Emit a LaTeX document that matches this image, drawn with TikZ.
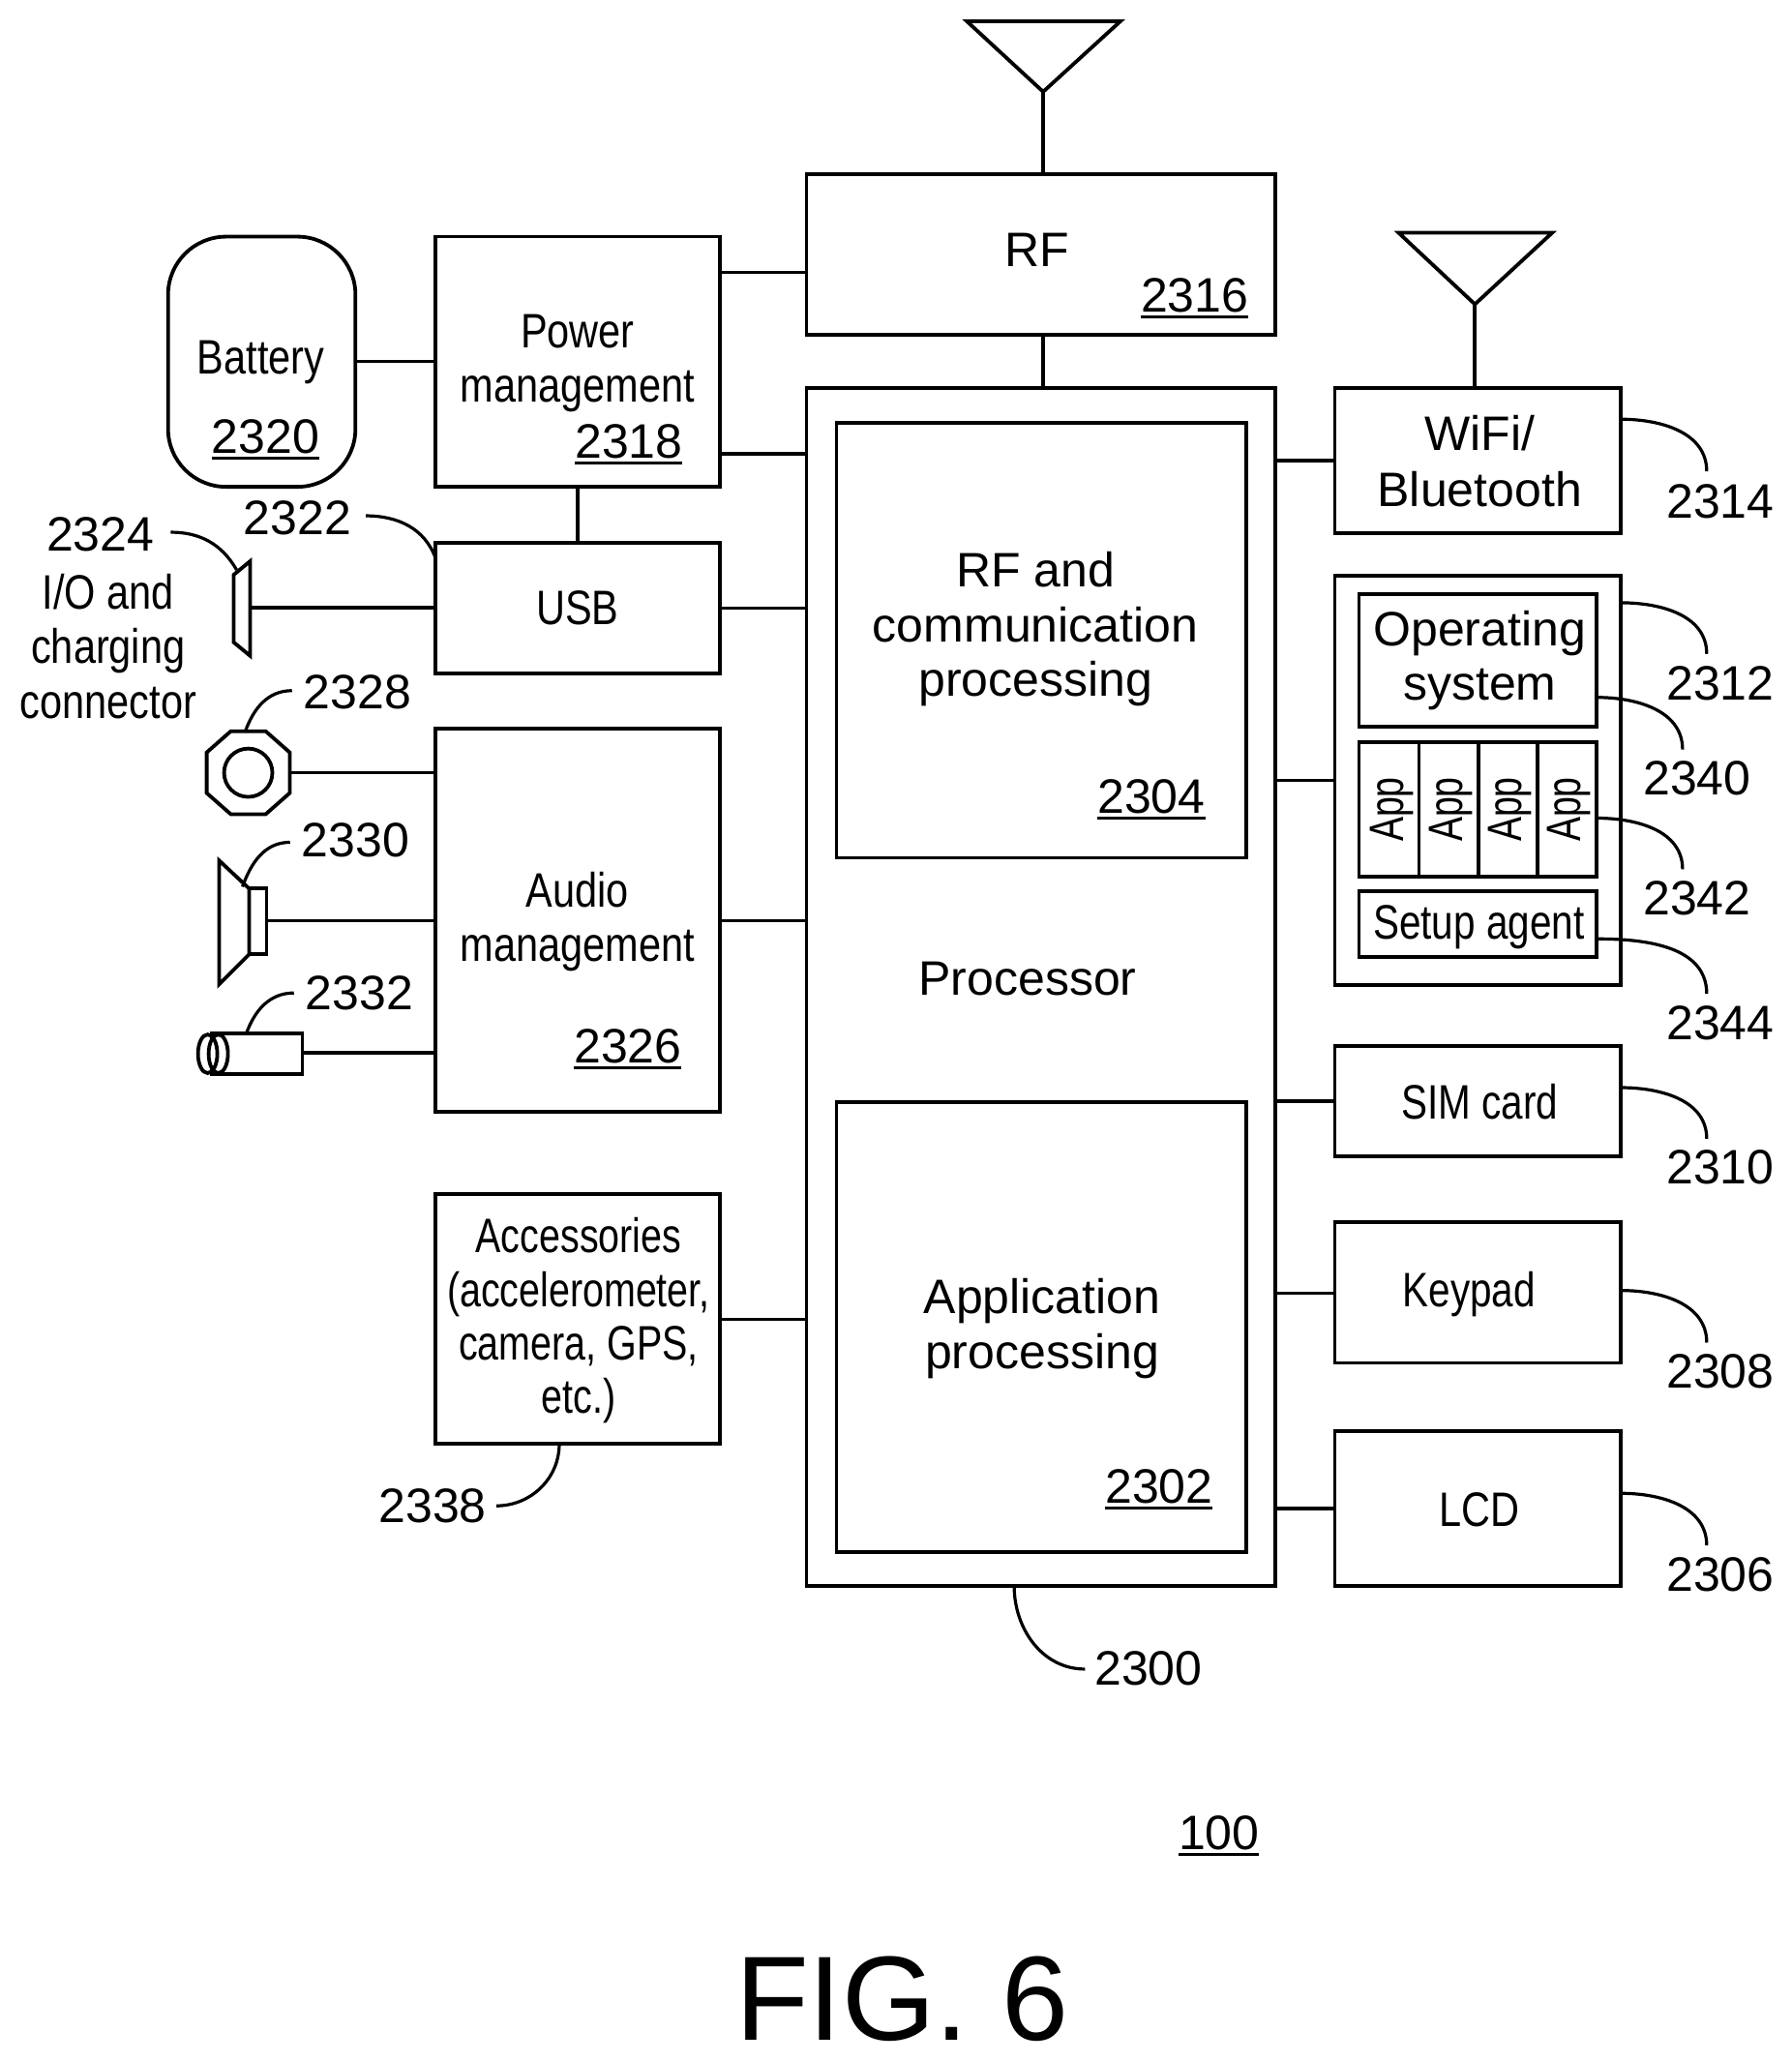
\documentclass[tikz,border=0pt]{standalone}
\usepackage{fontspec}
\setmainfont{Liberation Sans}
\newcommand{\ulab}[1]{\leavevmode\setbox0=\hbox{#1}\rlap{\raisebox{-.13em}{\rule{\wd0}{.055em}}}\box0}
\tikzset{
  box/.style={draw=black,line width=1.9pt,inner sep=0pt,outer sep=0pt,fill=white},
  wire/.style={draw=black,line width=1.8pt},
  leader/.style={draw=black,line width=1.6pt},
  shapeline/.style={draw=black,line width=1.9pt,line join=miter},
  txt/.style={inner sep=0pt,outer sep=0pt,text height=17pt,text depth=0pt,font=\fontsize{25}{30}\selectfont},
  nar/.style={txt,xscale=.83},
  numlab/.style={txt}
}
\newcommand{\bx}[6][]{%
  \pgfmathsetmacro\wdv{(#5-#3)*.4991}\pgfmathsetmacro\htv{(#6-#4)*.4991}%
  \node[box,#1,minimum width=\wdv pt,minimum height=\htv pt] (#2) at ({(#3+#5)/2},{(#4+#6)/2}) {};}
\begin{document}
\begin{tikzpicture}[x=.4991pt,y=-.4991pt]
\useasboundingbox[fill=white] (0,0) rectangle (1855.3,2134.8);
% boxes
\bx{rf}{835}{180}{1320}{347}
\bx{proc}{835}{402}{1320}{1642}
\bx{rfcomm}{866}{438}{1290}{888}
\bx{appproc}{866}{1141}{1290}{1607}
\bx[rounded corners=30pt]{battery}{174}{245}{368}{504}
\bx{power}{451}{245}{745}{504}
\bx{usb}{451}{562}{745}{697}
\bx{audio}{451}{754}{745}{1151}
\bx{acc}{451}{1236}{745}{1495}
\bx{wifi}{1382}{402}{1678}{552}
\bx{store}{1382}{596}{1678}{1020}
\bx{os}{1407}{615}{1653}{752}
\bx{appa}{1407}{768}{1469}{908}
\bx{appb}{1469}{768}{1531}{908}
\bx{appc}{1531}{768}{1592}{908}
\bx{appd}{1592}{768}{1653}{908}
\bx{setup}{1407}{923}{1653}{991}
\bx{sim}{1382}{1083}{1678}{1197}
\bx{keypad}{1382}{1265}{1678}{1411}
\bx{lcd}{1382}{1482}{1678}{1642}
% antennas
\coordinate (anta) at (1080,95);
\coordinate (antb) at (1527,315);
\draw[shapeline] (1001,22) -- (1160,22) -- (anta) -- cycle;
\draw[shapeline] (1448,241) -- (1607,241) -- (antb) -- cycle;
\draw[wire] (anta) -- (rf.north -| anta);
\draw[wire] (antb) -- (wifi.north -| antb);
% peripheral devices
\coordinate (ioc) at (259,629);
\draw[shapeline] (242,595) -- (259,581) -- (259,679) -- (242,665) -- cycle;
\coordinate (mic) at (300,800);
\draw[shapeline] (239,757) -- (275,757) -- (300,779) -- (300,821) -- (275,843) -- (239,843) -- (214,821) -- (214,779) -- cycle;
\draw[shapeline] (257,800) circle (25);
\coordinate (spk) at (276,953);
\draw[shapeline] (227,891) -- (258,920) -- (258,988) -- (227,1019) -- cycle;
\draw[shapeline] (258,920) rectangle (276,988);
\coordinate (cam) at (313,1090);
\draw[shapeline] (219,1070) rectangle (313,1112);
\draw[shapeline,fill=white] (226,1091) ellipse (10 and 20);
\draw[shapeline] (215,1091) ellipse (10 and 20);
% connectors
\draw[wire] (power.east |- 0,282) -- (rf.west |- 0,282);
\draw[wire] (rf.south -| 1080,0) -- (proc.north -| 1080,0);
\draw[wire] (power.east |- 0,470) -- (proc.west |- 0,470);
\draw[wire] (battery.east |- 0,374) -- (power.west |- 0,374);
\draw[wire] (power.south) -- (usb.north);
\draw[wire] (usb.east) -- (proc.west |- usb.east);
\draw[wire] (ioc) -- (usb.west |- ioc);
\draw[wire] (mic) -- (audio.west |- mic);
\draw[wire] (spk) -- (audio.west |- spk);
\draw[wire] (cam) -- (audio.west |- cam);
\draw[wire] (audio.east |- 0,953) -- (proc.west |- 0,953);
\draw[wire] (acc.east |- 0,1366) -- (proc.west |- 0,1366);
\draw[wire] (proc.east |- 0,477) -- (wifi.west |- 0,477);
\draw[wire] (proc.east |- 0,808) -- (store.west |- 0,808);
\draw[wire] (proc.east |- 0,1140) -- (sim.west |- 0,1140);
\draw[wire] (proc.east |- 0,1339) -- (keypad.west |- 0,1339);
\draw[wire] (proc.east |- 0,1562) -- (lcd.west |- 0,1562);
% box texts
\node[nar] (tbat) at (270,370) {Battery};
\node[numlab] (n2320) at (275,452) {\ulab{2320}};
\node[nar] (tpa) at (598,343) {Power};
\node[nar] (tpb) at (598,399) {management};
\node[numlab] (n2318) at (651,457) {\ulab{2318}};
\node[txt] (trf) at (1074,259) {RF};
\node[numlab] (n2316) at (1237,306) {\ulab{2316}};
\node[nar] (tusb) at (598,630) {USB};
\node[txt] (tca) at (1072,591) {RF and};
\node[txt] (tcb) at (1072,648) {communication};
\node[txt] (tcc) at (1072,704) {processing};
\node[numlab] (n2304) at (1192,825) {\ulab{2304}};
\node[txt] (tproc) at (1064,1013) {Processor};
\node[txt] (tapa) at (1079,1343) {Application};
\node[txt] (tapb) at (1079,1400) {processing};
\node[numlab] (n2302) at (1200,1539) {\ulab{2302}};
\node[nar] (tau) at (598,922) {Audio};
\node[nar] (tam) at (598,978) {management};
\node[numlab] (n2326) at (650,1083) {\ulab{2326}};
\node[nar,xscale=.95] (tac) at (599,1280) {Accessories};
\node[nar,xscale=.95] (tad) at (599,1336) {(accelerometer,};
\node[nar,xscale=.95] (tae) at (599,1391) {camera, GPS,};
\node[nar,xscale=.95] (taf) at (599,1446) {etc.)};
\node[nar] (tia) at (112,614) {I/O and};
\node[nar] (tib) at (112,670) {charging};
\node[nar] (tic) at (112,727) {connector};
\node[txt] (twa) at (1532,449) {WiFi/};
\node[txt] (twb) at (1532,507) {Bluetooth};
\node[txt] (tosa) at (1532,652) {Operating};
\node[txt] (tosb) at (1532,708) {system};
\node[txt,rotate=90,xscale=.75] (tappa) at (1436,838) {App};
\node[txt,rotate=90,xscale=.75] (tappb) at (1497,838) {App};
\node[txt,rotate=90,xscale=.75] (tappc) at (1558,838) {App};
\node[txt,rotate=90,xscale=.75] (tappd) at (1619,838) {App};
\node[nar,xscale=.975] (tset) at (1531,955) {Setup agent};
\node[nar,xscale=.975] (tsim) at (1532,1142) {SIM card};
\node[nar,xscale=.975] (tkey) at (1521,1336) {Keypad};
\node[nar] (tlcd) at (1532,1563) {LCD};
% reference numerals
\node[numlab] (n2314) at (1781,519) {2314};
\node[numlab] (n2312) at (1781,708) {2312};
\node[numlab] (n2340) at (1757,806) {2340};
\node[numlab] (n2342) at (1757,930) {2342};
\node[numlab] (n2344) at (1781,1059) {2344};
\node[numlab] (n2310) at (1781,1209) {2310};
\node[numlab] (n2308) at (1781,1420) {2308};
\node[numlab] (n2306) at (1781,1630) {2306};
\node[numlab] (n2300) at (1189,1728) {2300};
\node[numlab] (n2338) at (448,1559) {2338};
\node[numlab] (n2324) at (104,553) {2324};
\node[numlab] (n2322) at (308,536) {2322};
\node[numlab] (n2328) at (370,717) {2328};
\node[numlab] (n2330) at (368,870) {2330};
\node[numlab] (n2332) at (372,1028) {2332};
\node[numlab] (n100) at (1262,1898) {\ulab{100}};
\node[txt,text height=42.6pt,font=\fontsize{62}{70}\selectfont] (fig) at (934,2070) {FIG. 6};
% leaders
\draw[leader] (n2314.north -| 1767,0) ++(0,-14) to[out=90,in=0] (wifi.east |- 0,434);
\draw[leader] (n2312.north -| 1767,0) ++(0,-14) to[out=90,in=0] (store.east |- 0,624);
\draw[leader] (n2340.north -| 1742,0) ++(0,-13) to[out=90,in=0] (os.east |- 0,722);
\draw[leader] (n2342.north -| 1742,0) ++(0,-13) to[out=90,in=0] (appd.east |- 0,847);
\draw[leader] (n2344.north -| 1767,0) ++(0,-13) to[out=90,in=0] (setup.east |- 0,972);
\draw[leader] (n2310.north -| 1767,0) ++(0,-13) to[out=90,in=0] (sim.east |- 0,1126);
\draw[leader] (n2308.north -| 1767,0) ++(0,-13) to[out=90,in=0] (keypad.east |- 0,1336);
\draw[leader] (n2306.north -| 1767,0) ++(0,-13) to[out=90,in=0] (lcd.east |- 0,1546);
\draw[leader] (n2300.west) ++(-10,0) to[out=180,in=-90] (proc.south -| 1050,0);
\draw[leader] (n2338.east) ++(10,0) to[out=0,in=-90] (acc.south -| 579,0);
\draw[leader] (n2324.east) ++(17,-2) to[out=0,in=120] (245,590);
\draw[leader] (n2322.east) ++(15,-2) to[out=0,in=110] (usb.west |- 0,578);
\draw[leader] (n2328.west) ++(-12,-2) to[out=180,in=70] (254,757);
\draw[leader] (n2330.west) ++(-12,2) to[out=180,in=70] (251,918);
\draw[leader] (n2332.west) ++(-12,0) to[out=180,in=70] (255,1070);
\end{tikzpicture}
\end{document}
